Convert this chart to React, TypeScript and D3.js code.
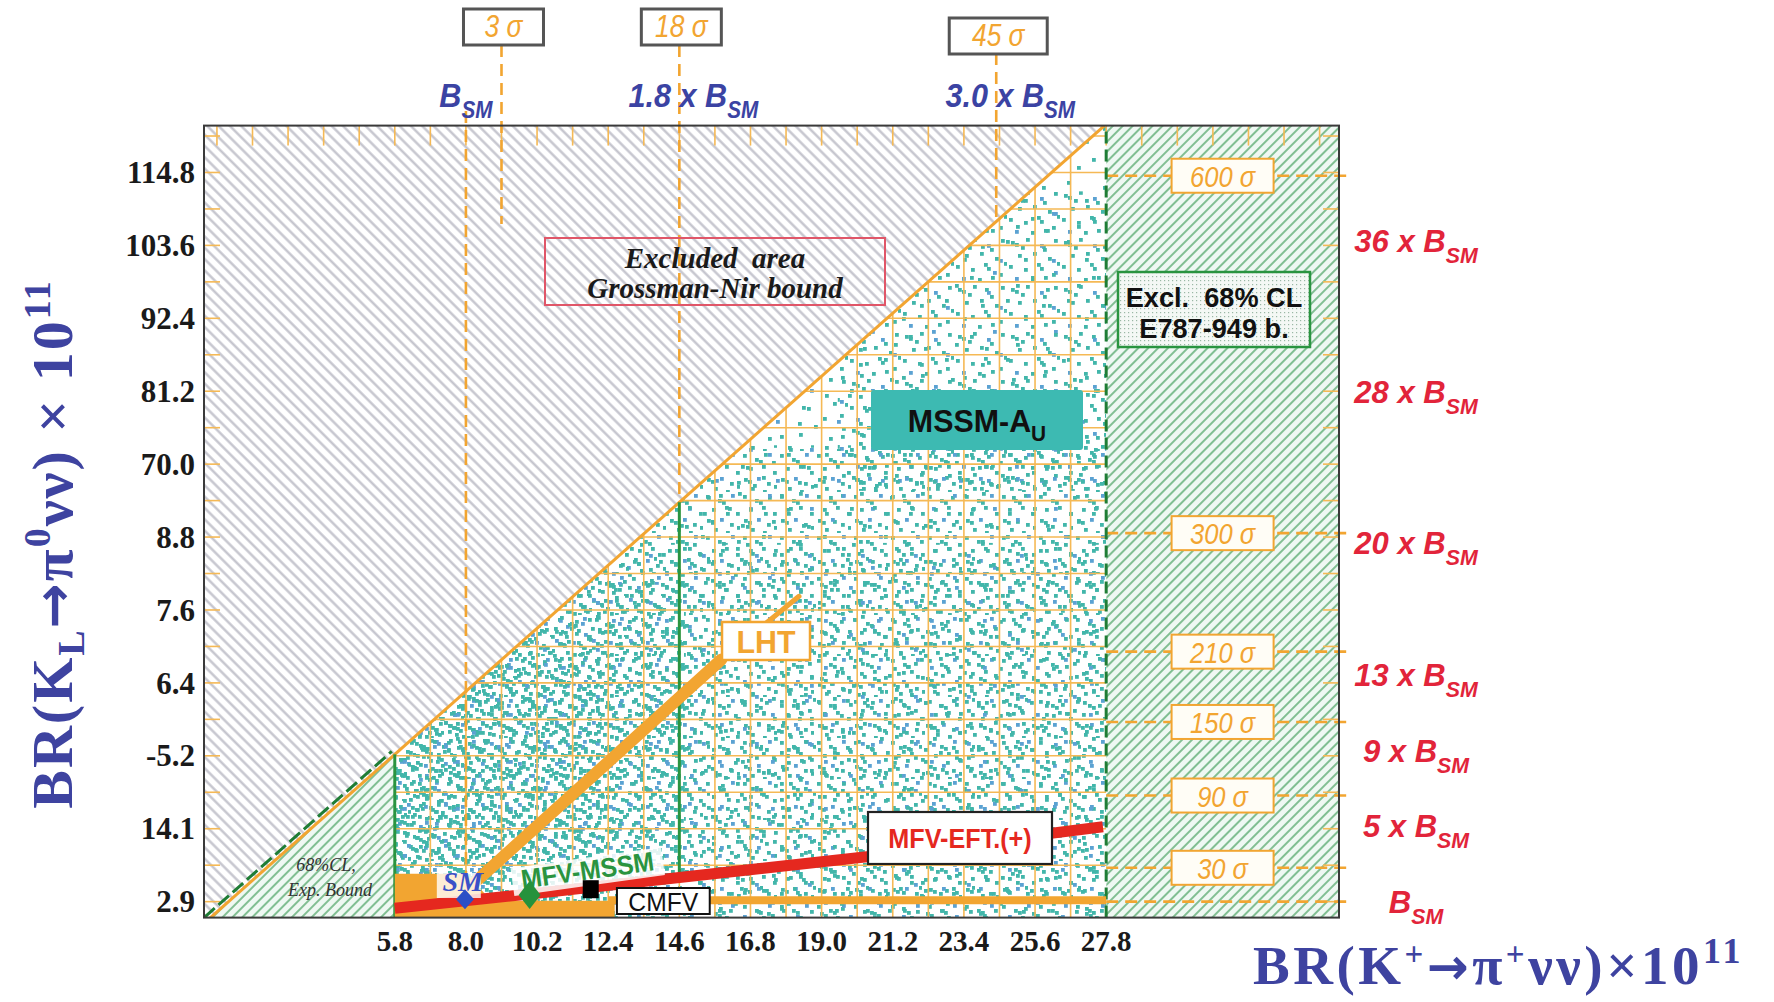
import React from "react";
import * as d3 from "d3";

const W = 1774;
const H = 1002;

// ---------- data ----------
const xTickValues = [5.8, 8.0, 10.2, 12.4, 14.6, 16.8, 19.0, 21.2, 23.4, 25.6, 27.8];
const yTickValues = [2.9, 14.1, 25.2, 36.4, 47.6, 58.8, 70.0, 81.2, 92.4, 103.6, 114.8];
const yTickLabels = ["2.9", "14.1", "-5.2", "6.4", "7.6", "8.8", "70.0", "81.2", "92.4", "103.6", "114.8"];

const gnSlope = 4.4; // Grossman-Nir bound BR(KL) < 4.4 BR(K+)
const expLowX = 5.8; // 68% CL lower edge
const expHighX = 27.8; // 68% CL upper edge

const bsmKL = 2.9;
const klMultiples = [36, 28, 20, 13, 9, 5, 1];

const rightSigmaLabels = ["600 σ", "300 σ", "210 σ", "150 σ", "90 σ", "30 σ"];
const rightSigmaY = [114.4, 59.5, 41.3, 30.5, 19.2, 8.1];

const topLineX = [8.0, 14.6, 24.4];
const topLinePrefix = ["", "1.8 x ", "3.0 x "];
const topSigmaLabels = ["3 σ", "18 σ", "45 σ"];
const topSigmaX = [9.1, 14.6, 24.4];

const mfvEftX = [5.8, 10.2, 14.6, 20.4, 27.7];
const mfvEftY = [1.9, 4.2, 6.6, 9.8, 14.4];

const lhtX = [7.3, 12.1, 15.9];
const lhtY = [1.5, 23.0, 40.1];
const lhtTailX = [15.9, 18.3];
const lhtTailY = [40.1, 49.8];

const cmfvBlockX = [5.8, 5.8, 8.0, 8.8, 12.6, 12.6];
const cmfvBlockY = [0.45, 7.2, 7.2, 3.0, 3.0, 0.45];
const cmfvBandX = [12.4, 27.8];
const cmfvBandY = [3.1, 3.1];

const pointNames = ["SM", "MFV-MSSM", "CMFV"];
const pointX = [7.97, 9.97, 11.86];
const pointY = [3.25, 3.94, 4.81];

// ---------- styles ----------
const SANS = "'Liberation Sans', Arial, Helvetica, sans-serif";
const SERIF = "'Liberation Serif', 'Times New Roman', serif";
const ORANGE = "#f2a531";
const GRIDC = "#f5b955";
const RED = "#e5281f";
const RLABEL = "#e2243a";
const BLUE = "#3b43a3";
const GREEN = "#2a9440";
const DKGREEN = "#1f7d35";
const TEAL = "#42b6aa";
const BLUEDOT = "#5ba2d2";

// texture tiles for the scan-point cloud (style only)
const dotTileA = [[4,6],[8,8],[19,3],[33,9],[36,13],[47,4],[11,19],[26,17],[41,22],[45,24],[2,30],[17,33],[30,28],[33,32],[45,38],[8,42],[24,43],[37,41],[50,27],[14,11]];
const dotTileB = [[3,3],[15,7],[19,9],[28,2],[9,16],[22,14],[33,20],[4,27],[8,29],[17,26],[27,31],[11,36],[23,39],[34,34]];
const dotTileS = [[5,9],[30,4],[48,22],[17,35],[40,48],[55,40],[9,52]];

function CText({ x, y, sx = 1, children, ...rest }: any) {
  return (
    <g transform={`translate(${x},${y}) scale(${sx},1)`}>
      <text x={0} y={0} style={{ whiteSpace: "pre" }} {...rest}>{children}</text>
    </g>
  );
}

export default function App() {
  const x = d3.scaleLinear().domain([-0.1, 35.0]).range([204, 1339]);
  const y = d3.scaleLinear().domain([0.45, 122.1]).range([917.6, 125.6]);
  const x0 = x(-0.1), x1 = x(35.0), yB = y(0.45), yT = y(122.1);
  const yTop = 122.1, yBot = 0.45;
  const gnTopX = yTop / gnSlope;
  const gnBotX = yBot / gnSlope;
  const pt = (a: number, b: number) => `${x(a)},${y(b)}`;

  const grayPoly = [pt(-0.1, yBot), pt(gnBotX, yBot), pt(gnTopX, yTop), pt(-0.1, yTop)].join(" ");
  const greenLeft = [pt(gnBotX, yBot), pt(expLowX, yBot), pt(expLowX, expLowX * gnSlope)].join(" ");
  const greenRight = [pt(expHighX, yBot), pt(35, yBot), pt(35, yTop), pt(expHighX, yTop)].join(" ");
  const allowed = [pt(expLowX, yBot), pt(expLowX, expLowX * gnSlope), pt(gnTopX, yTop), pt(expHighX, yTop), pt(expHighX, yBot)].join(" ");

  const line = d3.line<[number, number]>().x((d) => x(d[0])).y((d) => y(d[1]));
  const mfvEft = line(mfvEftX.map((v, i) => [v, mfvEftY[i]] as [number, number]));
  const lht = line(lhtX.map((v, i) => [v, lhtY[i]] as [number, number]));
  const lhtTail = line(lhtTailX.map((v, i) => [v, lhtTailY[i]] as [number, number]));
  const cmfvBlock = cmfvBlockX.map((v, i) => pt(v, cmfvBlockY[i])).join(" ");
  const cmfvBand = line(cmfvBandX.map((v, i) => [v, cmfvBandY[i]] as [number, number]));

  const gridXs = d3.range(1, 20).map((k) => expLowX + 1.1 * k);
  const gridYs = d3.range(0, 22).map((k) => bsmKL + 5.6 * k);
  const topTicks = d3.range(-5, 27).map((k) => expLowX + 1.1 * k);
  const sideTicks = d3.range(0, 22).map((k) => bsmKL + 5.6 * k);

  const dotPattern = (id: string, tile: number[][], w: number, h: number, tr: string) => (
    <pattern id={id} patternUnits="userSpaceOnUse" width={w} height={h} patternTransform={tr}>
      {tile.map((d, i) => (
        <rect key={i} x={d[0]} y={d[1]} width={3.8} height={3.8} fill={i % 6 === 3 ? BLUEDOT : TEAL} />
      ))}
    </pattern>
  );

  const sigmaBoxW = 102, sigmaBoxH = 34;
  const rectIn = (xa: number, xb: number, ya: number, yb: number, fill: string) => (
    <rect x={x(xa)} y={y(yb)} width={x(xb) - x(xa)} height={y(ya) - y(yb)} fill={fill} />
  );

  return (
    <svg width={W} height={H} style={{ position: "absolute", left: 0, top: 0, background: "#fff" }}>
      <defs>
        <pattern id="hatchGray" patternUnits="userSpaceOnUse" width={8} height={8} patternTransform="rotate(-45)">
          <rect width={8} height={8} fill="#ffffff" />
          <line x1={1.5} y1={0} x2={1.5} y2={8} stroke="#c2c2cb" strokeWidth={2.3} />
        </pattern>
        <pattern id="hatchGreen" patternUnits="userSpaceOnUse" width={7} height={7} patternTransform="rotate(45)">
          <rect width={7} height={7} fill="#eff8f3" />
          <line x1={1} y1={0} x2={1} y2={7} stroke="#46a05e" strokeWidth={1.3} />
        </pattern>
        <pattern id="dotFill" patternUnits="userSpaceOnUse" width={4} height={4}>
          <rect width={4} height={4} fill="#f4f8f5" />
          <rect x={0} y={0} width={1.2} height={1.2} fill="#9ab8a5" />
        </pattern>
        {dotPattern("dS0", dotTileS, 61, 59, "translate(0,0)")}
        {dotPattern("dS1", dotTileS, 61, 59, "translate(27,31)")}
        {dotPattern("dA0", dotTileA, 53, 47, "translate(0,0)")}
        {dotPattern("dA1", dotTileA, 53, 47, "translate(21,13)")}
        {dotPattern("dA2", dotTileA, 53, 47, "translate(40,31)")}
        {dotPattern("dB0", dotTileB, 37, 41, "translate(0,0)")}
        {dotPattern("dB1", dotTileB, 37, 41, "translate(9,22)")}
        <clipPath id="clipAllowed"><polygon points={allowed} /></clipPath>
        <clipPath id="clipPlot"><rect x={x0} y={yT} width={x1 - x0} height={yB - yT} /></clipPath>
      </defs>

      {/* regions */}
      <polygon points={grayPoly} fill="url(#hatchGray)" />
      <polygon points={greenLeft} fill="url(#hatchGreen)" />
      <polygon points={greenRight} fill="url(#hatchGreen)" />
      <polygon points={allowed} fill="#ffffff" />

      {/* scan points texture (MSSM-AU) */}
      <g clipPath="url(#clipAllowed)">
        {rectIn(expLowX, expHighX, yBot, yTop, "url(#dS0)")}
        {rectIn(12, expHighX, 60, 84, "url(#dS1)")}
        {rectIn(19.5, expHighX, 66, 112, "url(#dA0)")}
        {rectIn(expLowX, expHighX, yBot, 73, "url(#dB0)")}
        {rectIn(expLowX, expHighX, yBot, 58, "url(#dA1)")}
        {rectIn(expLowX, 14.8, yBot, 52, "url(#dB1)")}
        {rectIn(expLowX, 12.2, yBot, 40, "url(#dA2)")}
      </g>

      {/* grid in allowed region */}
      <g clipPath="url(#clipAllowed)" stroke={GRIDC} strokeWidth={1.6}>
        {gridXs.map((v) => <line key={"gx" + v} x1={x(v)} x2={x(v)} y1={yB} y2={yT} />)}
        {gridYs.map((v) => <line key={"gy" + v} x1={x(expLowX)} x2={x(expHighX)} y1={y(v)} y2={y(v)} />)}
      </g>

      {/* edge ticks */}
      <g stroke={GRIDC} strokeWidth={1.6}>
        {topTicks.map((v) => <line key={"tt" + v} x1={x(v)} x2={x(v)} y1={yT} y2={yT + 20} />)}
        {sideTicks.map((v) => <line key={"lt" + v} x1={x0} x2={x0 + 16} y1={y(v)} y2={y(v)} />)}
        {sideTicks.map((v) => <line key={"rt" + v} x1={x1 - 16} x2={x1} y1={y(v)} y2={y(v)} />)}
      </g>

      {/* right-side sigma dashed lines */}
      <g stroke={ORANGE} strokeWidth={2.6} strokeDasharray="12,7">
        {rightSigmaY.map((v) => <line key={"rs" + v} x1={x(expHighX)} x2={x1 + 8} y1={y(v)} y2={y(v)} />)}
        <line x1={x(expHighX)} x2={x1 + 8} y1={y(bsmKL)} y2={y(bsmKL)} />
      </g>

      {/* Grossman-Nir bound */}
      <g clipPath="url(#clipPlot)">
        <line x1={x(0)} y1={y(0)} x2={x(gnTopX)} y2={y(yTop)} stroke={ORANGE} strokeWidth={3} />
        <line x1={x(0) - 3} y1={y(0) - 3} x2={x(expLowX) - 3} y2={y(expLowX * gnSlope) - 3} stroke={DKGREEN} strokeWidth={3} strokeDasharray="14,5" />
      </g>
      <line x1={x(expLowX)} x2={x(expLowX)} y1={yB} y2={y(expLowX * gnSlope)} stroke={GREEN} strokeWidth={3} />
      <line x1={x(expHighX)} x2={x(expHighX)} y1={yB} y2={yT} stroke={DKGREEN} strokeWidth={3} strokeDasharray="12,6" />

      {/* vertical sigma / B_SM lines from the top */}
      <g stroke={ORANGE} strokeWidth={2.6} strokeDasharray="12,7">
        <line x1={x(topLineX[0])} x2={x(topLineX[0])} y1={111} y2={y(3.6)} />
        <line x1={x(topSigmaX[0])} x2={x(topSigmaX[0])} y1={45} y2={y(107)} />
        <line x1={x(topSigmaX[1])} x2={x(topSigmaX[1])} y1={45} y2={y(topSigmaX[1] * gnSlope)} />
        <line x1={x(topSigmaX[2])} x2={x(topSigmaX[2])} y1={53} y2={y(topSigmaX[2] * gnSlope)} />
      </g>
      <line x1={x(topLineX[1])} x2={x(topLineX[1])} y1={y(6.4)} y2={y(topLineX[1] * gnSlope)} stroke={GREEN} strokeWidth={3} />

      {/* CMFV, LHT, MFV-EFT */}
      <polygon points={cmfvBlock} fill={ORANGE} />
      <path d={cmfvBand || ""} stroke={ORANGE} strokeWidth={8} fill="none" />
      <path d={lht || ""} stroke={ORANGE} strokeWidth={12} fill="none" strokeLinecap="round" />
      <path d={lhtTail || ""} stroke={ORANGE} strokeWidth={5} fill="none" strokeLinecap="round" />
      <path d={mfvEft || ""} stroke={RED} strokeWidth={11} fill="none" />

      {/* MFV-MSSM label */}
      <g transform={`translate(${x(11.8)},${y(6.3)}) rotate(-8)`}>
        <rect x={-76} y={-22} width={152} height={28} fill="#ffffff" opacity={0.85} />
        <CText x={0} y={0} sx={0.92} textAnchor="middle" fontFamily={SANS} fontWeight="bold" fontSize={27} fill={GREEN}>MFV-MSSM</CText>
      </g>
      {/* SM label */}
      <rect x={x(7.1)} y={y(7.3)} width={44} height={25} fill="#ffffff" opacity={0.8} />
      <text x={x(7.9)} y={y(4.6)} textAnchor="middle" fontFamily={SERIF} fontStyle="italic" fontWeight="bold" fontSize={28} fill="#3a50c8">{pointNames[0]}</text>

      {/* markers */}
      <path d={`M${x(pointX[0])},${y(pointY[0]) - 10} l9,10 l-9,10 l-9,-10 z`} fill="#2b4fc6" />
      <path d={`M${x(pointX[1])},${y(pointY[1]) - 14} l11,14 l-11,14 l-11,-14 z`} fill="#26923c" />
      <rect x={x(pointX[2]) - 8} y={y(pointY[2]) - 9} width={16} height={18} fill="#000" />

      {/* CMFV box */}
      <rect x={x(12.67)} y={888} width={x(15.54) - x(12.67)} height={26} fill="#fff" stroke="#111" strokeWidth={2} />
      <CText x={(x(12.67) + x(15.54)) / 2} y={911} sx={0.95} textAnchor="middle" fontFamily={SANS} fontSize={26} fill="#111">{pointNames[2]}</CText>

      {/* MFV-EFT box */}
      <rect x={868} y={812} width={184} height={52} fill="#fff" stroke="#222" strokeWidth={2.2} />
      <CText x={960} y={848} sx={0.9} textAnchor="middle" fontFamily={SANS} fontWeight="bold" fontSize={28} fill={RED}>MFV-EFT.(+)</CText>

      {/* LHT box */}
      <rect x={722} y={622} width={88} height={38} fill="#fff" stroke={ORANGE} strokeWidth={2.5} />
      <CText x={766} y={653} sx={0.95} textAnchor="middle" fontFamily={SANS} fontWeight="bold" fontSize={32} fill={ORANGE}>LHT</CText>

      {/* MSSM-AU box */}
      <rect x={871} y={390} width={212} height={60} fill="#3dbab2" rx={3} />
      <CText x={977} y={432} sx={0.95} textAnchor="middle" fontFamily={SANS} fontWeight="bold" fontSize={32} fill="#111">MSSM-A<tspan dy={9} fontSize={22}>U</tspan></CText>

      {/* Excluded area box */}
      <rect x={545} y={238} width={340} height={67} fill="none" stroke="#e05668" strokeWidth={2} />
      <text x={715} y={268} textAnchor="middle" style={{ whiteSpace: "pre" }} fontFamily={SERIF} fontStyle="italic" fontWeight="bold" fontSize={29} fill="#1a1a1a">Excluded  area</text>
      <text x={715} y={298} textAnchor="middle" fontFamily={SERIF} fontStyle="italic" fontWeight="bold" fontSize={29} fill="#1a1a1a">Grossman-Nir bound</text>

      {/* Excl 68% CL box */}
      <rect x={1118} y={272} width={192} height={75} fill="url(#dotFill)" stroke={GREEN} strokeWidth={2.5} />
      <CText x={1214} y={307} sx={0.97} textAnchor="middle" fontFamily={SANS} fontWeight="bold" fontSize={28} fill="#111">Excl.  68% CL</CText>
      <CText x={1214} y={338} sx={0.97} textAnchor="middle" fontFamily={SANS} fontWeight="bold" fontSize={28} fill="#111">E787-949 b.</CText>

      {/* 68% CL exp bound label */}
      <text x={326} y={871} textAnchor="middle" fontFamily={SERIF} fontStyle="italic" fontSize={18} fill="#333">68%CL,</text>
      <text x={330} y={896} textAnchor="middle" fontFamily={SERIF} fontStyle="italic" fontSize={18} fill="#333">Exp. Bound</text>

      {/* right sigma boxes */}
      {rightSigmaY.map((v, i) => (
        <g key={"sb" + i}>
          <rect x={x(31.4) - sigmaBoxW / 2} y={y(v) - sigmaBoxH / 2} width={sigmaBoxW} height={sigmaBoxH} fill="#fffdf6" stroke={ORANGE} strokeWidth={2} />
          <CText x={x(31.4)} y={y(v) + 11} sx={0.85} textAnchor="middle" fontFamily={SANS} fontStyle="italic" fontSize={30} fill={ORANGE}>{rightSigmaLabels[i]}</CText>
        </g>
      ))}

      {/* frame */}
      <rect x={x0} y={yT} width={x1 - x0} height={yB - yT} fill="none" stroke="#3a3a3a" strokeWidth={2} />

      {/* top sigma boxes */}
      {topSigmaX.map((v, i) => {
        const bw = i === 2 ? 98 : 80;
        const by = i === 2 ? 18 : 9;
        return (
          <g key={"ts" + i}>
            <rect x={x(v) - bw / 2 + 2} y={by} width={bw} height={36} fill="#fff" stroke="#555" strokeWidth={3} />
            <CText x={x(v) + 2} y={by + 28} sx={0.85} textAnchor="middle" fontFamily={SANS} fontStyle="italic" fontSize={31} fill={ORANGE}>{topSigmaLabels[i]}</CText>
          </g>
        );
      })}

      {/* top B_SM labels */}
      {topLineX.map((v, i) => (
        <CText key={"tl" + i} x={x(v) + (i === 0 ? 0 : 14)} y={107} sx={0.9} textAnchor="middle" fontFamily={SANS} fontStyle="italic" fontWeight="bold" fontSize={34} fill={BLUE}>
          {topLinePrefix[i]}B<tspan dy={11} fontSize={23}>SM</tspan>
        </CText>
      ))}

      {/* right B_SM multiples */}
      {klMultiples.map((m) => (
        <CText key={"km" + m} x={1416} y={y(m * bsmKL) + 11} sx={0.97} textAnchor="middle" fontFamily={SANS} fontStyle="italic" fontWeight="bold" fontSize={32} fill={RLABEL}>
          {m === 1 ? "" : `${m} x `}B<tspan dy={11} fontSize={22}>SM</tspan>
        </CText>
      ))}

      {/* tick labels */}
      {xTickValues.map((v) => (
        <text key={"xl" + v} x={x(v)} y={951} textAnchor="middle" fontFamily={SERIF} fontWeight="bold" fontSize={29} fill="#1a1a1a">{v.toFixed(1)}</text>
      ))}
      {yTickValues.map((v, i) => (
        <text key={"yl" + v} x={195} y={y(v) + 10} textAnchor="end" fontFamily={SERIF} fontWeight="bold" fontSize={31} fill="#1a1a1a">{yTickLabels[i]}</text>
      ))}

      {/* axis titles */}
      <text transform="translate(72,544) rotate(-90)" textAnchor="middle" fontFamily={SERIF} fontWeight="bold" fontSize={58} letterSpacing={2} fill="#3e43a0">
        BR(K<tspan dy={12} fontSize={38}>L</tspan><tspan dy={-12} fontFamily="'DejaVu Sans', sans-serif" fontSize={54}>→</tspan><tspan>π</tspan><tspan dy={-22} fontSize={38}>0</tspan><tspan dy={22}>νν) × 10</tspan><tspan dy={-22} fontSize={38}>11</tspan>
      </text>
      <text x={1253} y={984} fontFamily={SERIF} fontWeight="bold" fontSize={55} letterSpacing={3.5} fill="#3e43a0">
        BR(K<tspan dy={-19} fontSize={33}>+</tspan><tspan dy={19} fontFamily="'DejaVu Sans', sans-serif" fontSize={50}>→</tspan><tspan>π</tspan><tspan dy={-19} fontSize={33}>+</tspan><tspan dy={19}>νν)×10</tspan><tspan dy={-21} fontSize={36}>11</tspan>
      </text>
    </svg>
  );
}
